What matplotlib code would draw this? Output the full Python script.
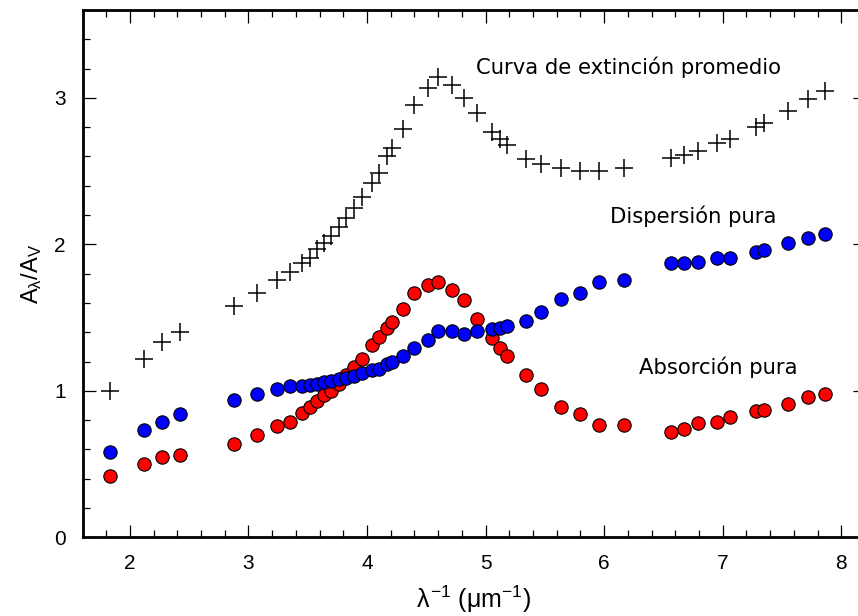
import matplotlib
matplotlib.use("Agg")
import matplotlib.pyplot as plt
from matplotlib.ticker import MultipleLocator

# Inverse wavelength (1/um), shared by the three curves
inv_wavelength = [
    1.83, 2.12, 2.27, 2.42, 2.88, 3.07, 3.24, 3.35, 3.45, 3.52,
    3.58, 3.64, 3.70, 3.76, 3.82, 3.89, 3.96, 4.04, 4.10, 4.17,
    4.21, 4.30, 4.40, 4.51, 4.60, 4.72, 4.82, 4.93, 5.05, 5.12,
    5.18, 5.34, 5.47, 5.64, 5.80, 5.96, 6.17, 6.56, 6.67, 6.79,
    6.95, 7.06, 7.28, 7.35, 7.55, 7.72, 7.86,
]

# Mean extinction curve A_lambda / A_V
mean_extinction = [
    1.00, 1.22, 1.33, 1.40, 1.58, 1.67, 1.76, 1.81, 1.87, 1.91,
    1.97, 2.01, 2.06, 2.12, 2.18, 2.25, 2.32, 2.42, 2.49, 2.60,
    2.66, 2.79, 2.95, 3.07, 3.14, 3.09, 3.00, 2.90, 2.77, 2.72,
    2.68, 2.58, 2.55, 2.52, 2.50, 2.50, 2.52, 2.59, 2.61, 2.64,
    2.69, 2.72, 2.80, 2.83, 2.91, 2.99, 3.05,
]

# Pure scattering component
pure_scattering = [
    0.58, 0.73, 0.79, 0.84, 0.94, 0.98, 1.01, 1.03, 1.03, 1.04,
    1.05, 1.06, 1.07, 1.08, 1.09, 1.10, 1.12, 1.14, 1.15, 1.18,
    1.20, 1.24, 1.29, 1.35, 1.41, 1.41, 1.39, 1.41, 1.42, 1.43,
    1.44, 1.48, 1.54, 1.63, 1.67, 1.74, 1.76, 1.87, 1.87, 1.88,
    1.91, 1.91, 1.95, 1.96, 2.01, 2.04, 2.07,
]

# Pure absorption component
pure_absorption = [
    0.42, 0.50, 0.55, 0.56, 0.64, 0.70, 0.76, 0.79, 0.85, 0.89,
    0.93, 0.97, 1.00, 1.05, 1.11, 1.16, 1.22, 1.31, 1.37, 1.43,
    1.47, 1.56, 1.67, 1.72, 1.74, 1.69, 1.62, 1.49, 1.36, 1.29,
    1.24, 1.11, 1.01, 0.89, 0.84, 0.77, 0.77, 0.72, 0.74, 0.78,
    0.79, 0.82, 0.86, 0.87, 0.91, 0.96, 0.98,
]

labels = ["Curva de extinción promedio", "Dispersión pura", "Absorción pura"]
label_pos = [(4.92, 3.21), (6.05, 2.19), (6.29, 1.16)]

plt.rcParams["mathtext.fontset"] = "custom"
plt.rcParams["mathtext.rm"] = "Liberation Sans"
plt.rcParams["mathtext.it"] = "Liberation Sans"

fig = plt.figure(figsize=(8.58, 6.16), dpi=100)
ax = fig.add_axes([82.5 / 858, 78.7 / 616, (865 - 82.5) / 858, (537.3 - 10) / 616])

ax.plot(inv_wavelength, mean_extinction, linestyle="none", marker="+",
        markersize=13, markeredgewidth=1.1, color="black", zorder=3)
ax.plot(inv_wavelength, pure_absorption, linestyle="none", marker="o",
        markersize=9.6, markerfacecolor="#ff0000", markeredgecolor="black",
        markeredgewidth=0.8, zorder=4)
ax.plot(inv_wavelength, pure_scattering, linestyle="none", marker="o",
        markersize=9.6, markerfacecolor="#0000ff", markeredgecolor="black",
        markeredgewidth=0.8, zorder=5)

for text, (tx, ty) in zip(labels, label_pos):
    ax.text(tx, ty, text, fontsize=15.2, family="DejaVu Sans",
            ha="left", va="center", color="black")

ax.set_xlim(1.6, 8.2)
ax.set_ylim(0, 3.6)
ax.xaxis.set_major_locator(MultipleLocator(1))
ax.xaxis.set_minor_locator(MultipleLocator(0.2))
ax.yaxis.set_major_locator(MultipleLocator(1))
ax.yaxis.set_minor_locator(MultipleLocator(0.2))

for side in ("left", "bottom", "top", "right"):
    ax.spines[side].set_linewidth(2.0)

ax.tick_params(which="both", direction="in", top=True, right=True,
               width=0.9, colors="black")
ax.tick_params(which="major", length=9, labelsize=15, pad=12)
ax.tick_params(which="minor", length=5)
for lab in ax.get_xticklabels() + ax.get_yticklabels():
    lab.set_family("Liberation Sans")

ax.set_xlabel(r"$\lambda^{-1}$ ($\mu$m$^{-1}$)", fontsize=18,
              family="Liberation Sans", labelpad=8)
ax.set_ylabel(r"A$_\lambda$/A$_\mathrm{V}$", fontsize=17,
              family="Liberation Sans", labelpad=7)

fig.savefig("out.png", dpi=100)
